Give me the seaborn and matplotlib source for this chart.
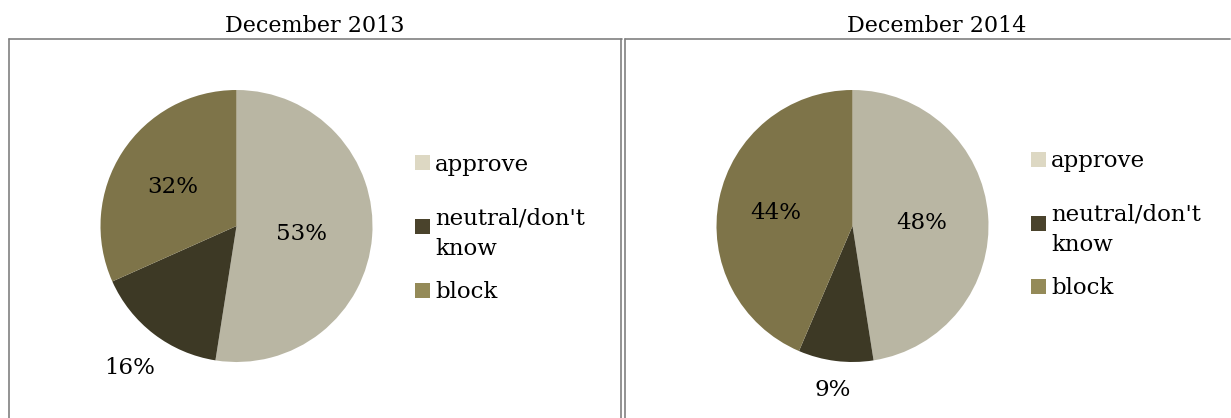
import numpy as np
import matplotlib
matplotlib.use("Agg")
import matplotlib.pyplot as plt
from matplotlib.lines import Line2D
from matplotlib.patches import Rectangle
import seaborn as sns

# Survey shares (percent) for each period
categories = ["approve", "neutral/don't\nknow", "block"]
periods = ["December 2013", "December 2014"]
shares_2013 = [53, 16, 32]
shares_2014 = [48, 9, 44]

sns.set_theme(style="white")
plt.rcParams["font.family"] = ["DejaVu Serif", "Liberation Serif"]

wedge_colors = sns.color_palette(["#B9B6A3", "#3D3925", "#7E7449"])
swatch_colors = sns.color_palette(["#DDD8C3", "#4A432C", "#948A58"])

W, H = 1231, 418
fig = plt.figure(figsize=(W / 100, H / 100), dpi=100)
fig.patch.set_facecolor("white")


def fx(px):
    return px / W


def fy(py):
    return 1 - py / H


# panel frames (top edge and double divider)
grey = "#808080"
lw = 1.2
for xs, ys in [
    ([9, 9], [39, H + 5]),
    ([9, 622], [39, 39]),
    ([621, 621], [39, H + 5]),
    ([625, 625], [39, H + 5]),
    ([625, 1230], [39, 39]),
]:
    fig.add_artist(Line2D([fx(x) for x in xs], [fy(y) for y in ys],
                          color=grey, lw=lw, transform=fig.transFigure))

panels = [
    dict(values=shares_2013, cx=236.5, title_x=314.5, leg_x=415,
         label_r=[0.476, 1.29, 0.56],
         leg_y=[162, 227, 290]),
    dict(values=shares_2014, cx=852.5, title_x=937, leg_x=1031,
         label_r=[0.51, 1.2, 0.575],
         leg_y=[159, 223, 286]),
]
cy, rad = 226, 136
fs = 16.5

for period, p in zip(periods, panels):
    ax = fig.add_axes([fx(p["cx"] - rad), fy(cy + rad), 2 * rad / W, 2 * rad / H])
    wedges, _ = ax.pie(p["values"], colors=wedge_colors, startangle=90,
                       counterclock=False, radius=1,
                       wedgeprops=dict(linewidth=0))
    ax.set_xlim(-1, 1)
    ax.set_ylim(-1, 1)
    ax.set_aspect("auto")
    ax.axis("off")

    for w, v, r in zip(wedges, p["values"], p["label_r"]):
        mid = np.deg2rad((w.theta1 + w.theta2) / 2)
        ax.text(r * np.cos(mid), r * np.sin(mid), f"{v}%", ha="center",
                va="center_baseline", fontsize=fs, color="black", clip_on=False)

    fig.text(fx(p["title_x"]), fy(23), period, ha="center",
             va="center_baseline", fontsize=fs - 0.5, color="black")

    # legend swatches and labels
    for lab, col, ly in zip(categories, swatch_colors, p["leg_y"]):
        sq = 15
        fig.add_artist(Rectangle((fx(p["leg_x"]), fy(ly + sq / 2)), sq / W, sq / H,
                                 facecolor=col, edgecolor="none",
                                 transform=fig.transFigure))
        fig.text(fx(p["leg_x"] + 20), fy(ly), lab, ha="left",
                 va="center_baseline", fontsize=fs, color="black",
                 linespacing=1.5, transform=fig.transFigure)

fig.savefig("out.png", dpi=100)
